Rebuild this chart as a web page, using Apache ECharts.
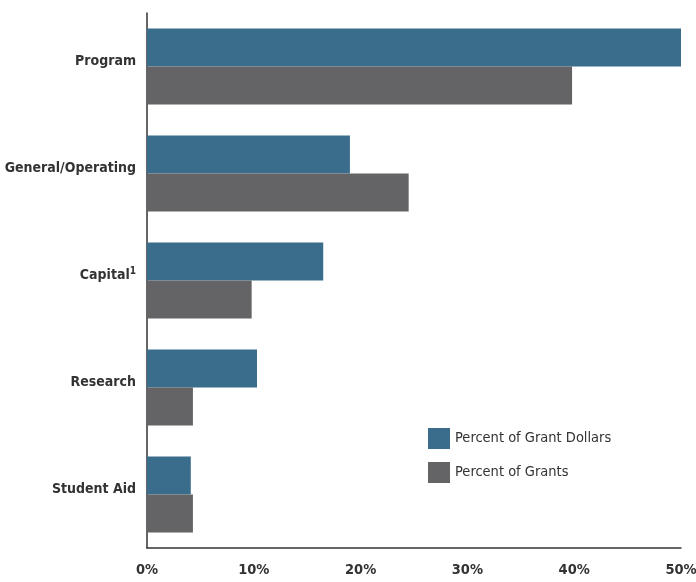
<!DOCTYPE html>
<html>
<head>
<meta charset="utf-8">
<script src="https://cdn.jsdelivr.net/npm/echarts@6/dist/echarts.min.js"></script>
<style>html,body{margin:0;padding:0;background:#fff;}#c{width:696px;height:582px;}</style>
</head>
<body>
<div id="c"></div>
<script>
const categories = ['Program', 'General/Operating', 'Capital{sup|1}', 'Research', 'Student Aid'];
const grantDollars = [50.0, 19.0, 16.5, 10.3, 4.1];
const grants = [39.8, 24.5, 9.8, 4.3, 4.3];
const seriesNames = ['Percent of Grant Dollars', 'Percent of Grants'];
const xTicks = [0, 10, 20, 30, 40, 50];

const FONT = '"Liberation Sans Narrow", "DejaVu Sans Condensed", "Roboto", sans-serif';
const chart = echarts.init(document.getElementById('c'));
chart.setOption({
  animation: false,
  textStyle: { fontFamily: FONT },
  grid: { left: 147, right: 15, top: 13, bottom: 34, containLabel: false, outerBoundsMode: 'none' },
  legend: {
    orient: 'vertical', left: 423, top: 423,
    itemWidth: 22, itemHeight: 21, itemGap: 13,
    icon: 'rect',
    data: seriesNames,
    textStyle: { fontFamily: FONT, fontSize: 14.5, color: '#333' }
  },
  xAxis: {
    type: 'value', min: xTicks[0], max: xTicks[xTicks.length - 1], interval: 10,
    axisLine: { show: true, lineStyle: { color: '#333', width: 1.5 } },
    axisTick: { show: false },
    splitLine: { show: false },
    axisLabel: { formatter: '{value}%', fontFamily: FONT, fontSize: 14.5, fontWeight: 'bold', color: '#333', margin: 15 }
  },
  yAxis: {
    type: 'category', data: categories, inverse: true,
    axisLine: { show: true, lineStyle: { color: '#333', width: 1.5 } },
    axisTick: { show: false },
    axisLabel: {
      fontFamily: FONT, fontSize: 14, fontWeight: 'bold', color: '#333', margin: 11,
      padding: [0, 0, 10, 0],
      rich: { sup: { fontSize: 10, fontWeight: 'bold', verticalAlign: 'top', color: '#333', fontFamily: FONT, padding: [0, 0, 8, 0] } }
    }
  },
  series: [
    { name: seriesNames[0], type: 'bar', data: grantDollars, barWidth: 38, barGap: '0%', itemStyle: { color: '#3a6c8c' } },
    { name: seriesNames[1], type: 'bar', data: grants, barWidth: 38, barGap: '0%', itemStyle: { color: '#646466' } }
  ]
});
</script>
</body>
</html>
